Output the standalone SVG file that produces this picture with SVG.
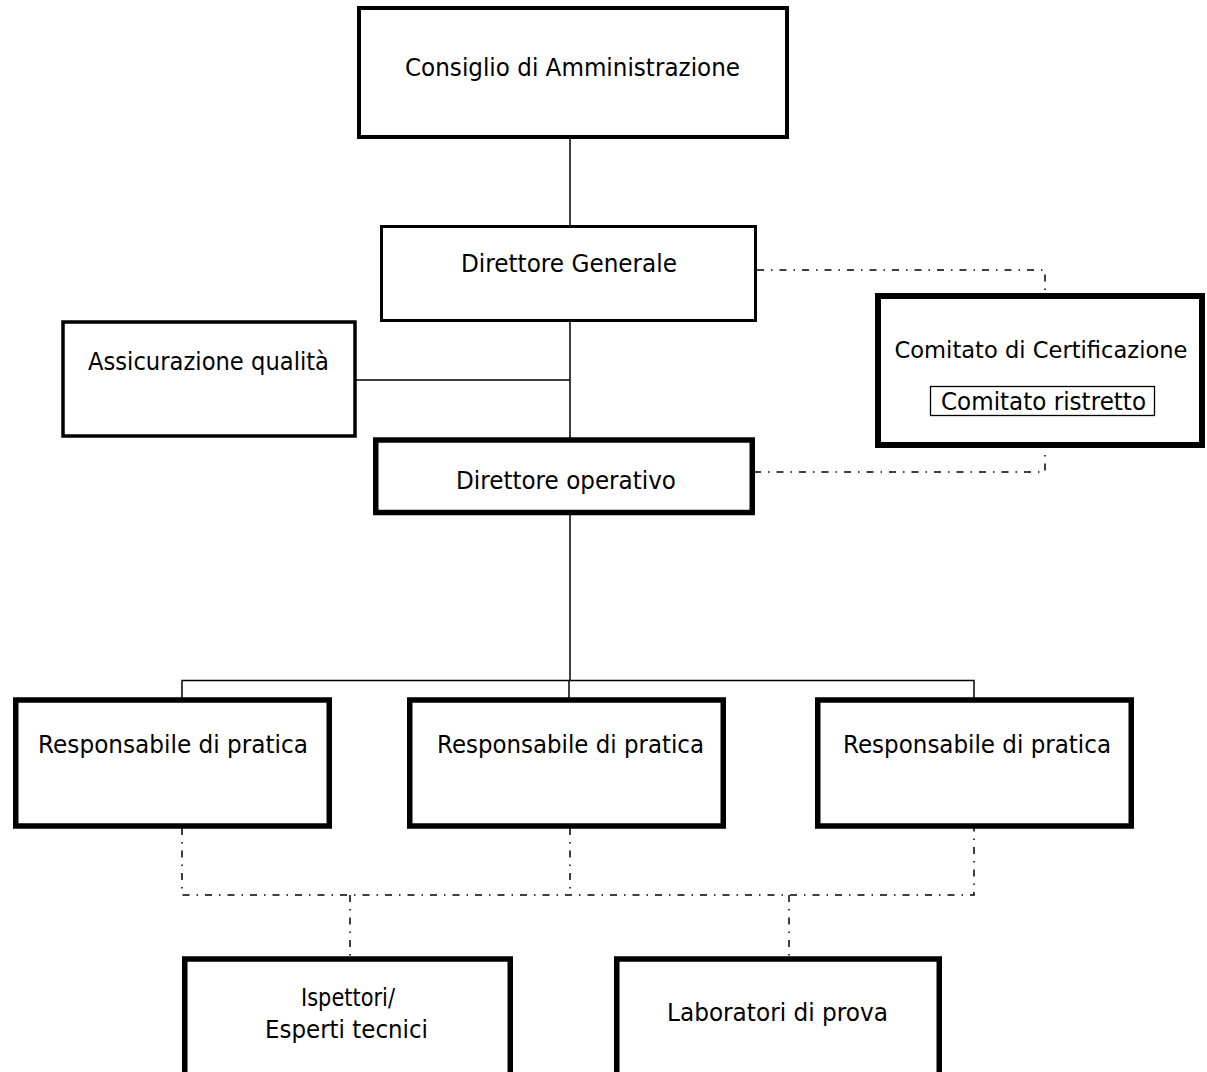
<svg xmlns="http://www.w3.org/2000/svg" width="1207" height="1072" viewBox="0 0 1207 1072">
<style>
  .box{fill:#fff;stroke:#000}
  .t{font-family:"DejaVu Sans",sans-serif;font-size:25px;fill:#000;text-anchor:middle}
  .ln{stroke:#000;stroke-width:1.5;fill:none}
  .dd{stroke:#000;stroke-width:1.5;fill:none;stroke-dasharray:7 7 1.5 7}
</style>
<rect width="1207" height="1072" fill="#fff"/>
<g id="connectors">
  <line class="ln" x1="570" y1="139" x2="570" y2="226"/>
  <line class="ln" x1="570" y1="321" x2="570" y2="440"/>
  <line class="ln" x1="356" y1="380" x2="570" y2="380"/>
  <line class="ln" x1="570" y1="513" x2="570" y2="681"/>
  <path class="ln" d="M182,700 V680.5 H974 V700 M569,680.5 V700" stroke-width="1.2"/>
  <path class="dd" d="M757,270 H1045 V294"/>
  <path class="dd" d="M754,472 H1045 V447"/>
  <path class="dd" d="M182,828 V895 H974 V828"/>
  <path class="dd" d="M570,828 V895"/>
  <path class="dd" d="M350,895 V957"/>
  <path class="dd" d="M789,895 V957"/>
</g>
<g id="n-consiglio">
  <rect class="box" x="359" y="8" width="428" height="129" stroke-width="4"/>
  <text class="t" x="572.5" y="76" textLength="335" lengthAdjust="spacingAndGlyphs">Consiglio di Amministrazione</text>
</g>
<g id="n-direttore-generale">
  <rect class="box" x="381.5" y="226.5" width="374" height="94" stroke-width="3"/>
  <text class="t" x="569" y="272" textLength="216" lengthAdjust="spacingAndGlyphs">Direttore Generale</text>
</g>
<g id="n-assicurazione">
  <rect class="box" x="63" y="322" width="292" height="114" stroke-width="3.5"/>
  <text class="t" x="208.5" y="370" textLength="241" lengthAdjust="spacingAndGlyphs">Assicurazione qualità</text>
</g>
<g id="n-comitato">
  <rect class="box" x="878" y="296" width="324" height="149" stroke-width="6"/>
  <text class="t" x="1041" y="358" style="font-size:22.5px" textLength="293" lengthAdjust="spacingAndGlyphs">Comitato di Certificazione</text>
  <rect class="box" x="930.5" y="386.5" width="224" height="29" stroke-width="1.3"/>
  <text class="t" x="1043.5" y="410" textLength="205" lengthAdjust="spacingAndGlyphs">Comitato ristretto</text>
</g>
<g id="n-direttore-operativo">
  <rect class="box" x="375.75" y="440" width="376.5" height="72.5" stroke-width="5.5"/>
  <text class="t" x="566" y="489" textLength="220" lengthAdjust="spacingAndGlyphs">Direttore operativo</text>
</g>
<g id="n-resp1">
  <rect class="box" x="15.75" y="700" width="313.5" height="126" stroke-width="5.5"/>
  <text class="t" x="173" y="753" textLength="270" lengthAdjust="spacingAndGlyphs">Responsabile di pratica</text>
</g>
<g id="n-resp2">
  <rect class="box" x="409.75" y="700" width="313.5" height="126" stroke-width="5.5"/>
  <text class="t" x="570.5" y="753" textLength="267" lengthAdjust="spacingAndGlyphs">Responsabile di pratica</text>
</g>
<g id="n-resp3">
  <rect class="box" x="817.75" y="700" width="313.5" height="126" stroke-width="5.5"/>
  <text class="t" x="977" y="753" textLength="268" lengthAdjust="spacingAndGlyphs">Responsabile di pratica</text>
</g>
<g id="n-ispettori">
  <rect class="box" x="184.75" y="959" width="325.5" height="130" stroke-width="5.5"/>
  <text class="t" x="348" y="1006" textLength="94" lengthAdjust="spacingAndGlyphs">Ispettori/</text>
  <text class="t" x="346.5" y="1038" textLength="163" lengthAdjust="spacingAndGlyphs">Esperti tecnici</text>
</g>
<g id="n-laboratori">
  <rect class="box" x="616.75" y="959" width="322.5" height="130" stroke-width="5.5"/>
  <text class="t" x="777.5" y="1021" textLength="221" lengthAdjust="spacingAndGlyphs">Laboratori di prova</text>
</g>
</svg>
